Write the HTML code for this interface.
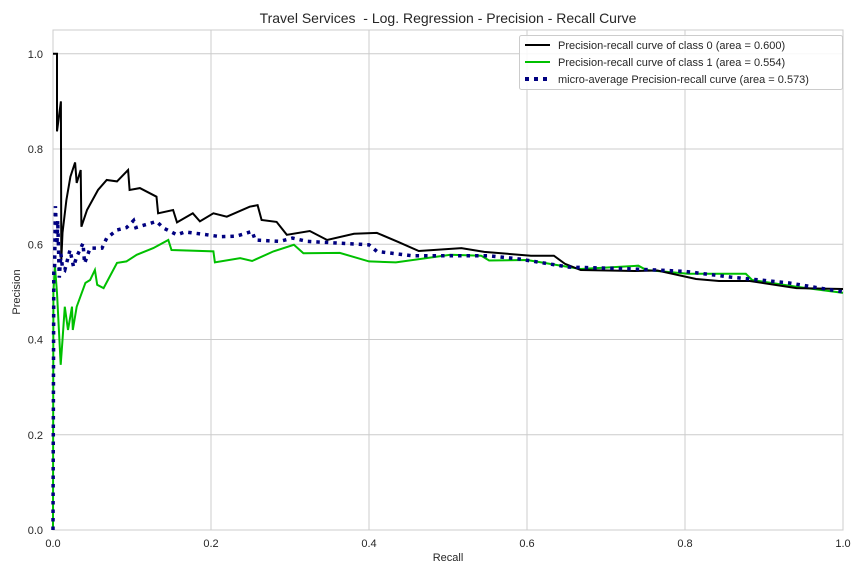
<!DOCTYPE html>
<html><head><meta charset="utf-8"><style>
body{margin:0;background:#fff;}
svg{display:block;font-family:"Liberation Sans",sans-serif;}
</style></head><body>
<svg id="chart" width="864" height="576">
<text x="448" y="23" text-anchor="middle" font-size="14" fill="#262626" style="white-space:pre">Travel Services  - Log. Regression - Precision - Recall Curve</text>
<text x="448" y="561" text-anchor="middle" font-size="11" fill="#262626">Recall</text>
<text transform="translate(20,292) rotate(-90)" text-anchor="middle" font-size="11" fill="#262626">Precision</text>
<g id="grid"></g>
<g id="series"></g>
<g id="legend">
<rect x="519.5" y="35.5" width="323" height="54" fill="#fff" fill-opacity="0.85" stroke="#ccc" rx="2"/>
<line x1="525" y1="45" x2="550" y2="45" stroke="#000" stroke-width="2"/>
<text x="558" y="49" font-size="11" fill="#262626">Precision-recall curve of class 0 (area = 0.600)</text>
<line x1="525" y1="62" x2="550" y2="62" stroke="#00c000" stroke-width="2"/>
<text x="558" y="66" font-size="11" fill="#262626">Precision-recall curve of class 1 (area = 0.554)</text>
<line x1="525" y1="79" x2="550" y2="79" stroke="#000080" stroke-width="4" stroke-dasharray="4 5"/>
<text x="558" y="83" font-size="11" fill="#262626">micro-average Precision-recall curve (area = 0.573)</text>
</g>
</svg>
<script>
const xTicks=[0,0.2,0.4,0.6,0.8,1.0];
const yTicks=[0,0.2,0.4,0.6,0.8,1.0];
const xTickLabels=["0.0","0.2","0.4","0.6","0.8","1.0"];
const yTickLabels=["0.0","0.2","0.4","0.6","0.8","1.0"];
const c0Recall=[0,0.001,0.005,0.005,0.010,0.0105,0.012,0.017,0.022,0.028,0.030,0.035,0.036,0.043,0.057,0.068,0.081,0.095,0.097,0.110,0.131,0.133,0.152,0.157,0.177,0.186,0.203,0.22,0.249,0.259,0.264,0.283,0.296,0.325,0.347,0.381,0.410,0.437,0.463,0.517,0.546,0.605,0.634,0.648,0.668,0.736,0.765,0.814,0.843,0.882,0.941,1.0];
const c0Prec=[1.0,1.0,1.0,0.837,0.90,0.567,0.624,0.693,0.742,0.772,0.729,0.756,0.637,0.672,0.714,0.735,0.732,0.756,0.714,0.718,0.70,0.665,0.672,0.646,0.665,0.648,0.665,0.658,0.679,0.682,0.651,0.647,0.620,0.628,0.609,0.622,0.624,0.605,0.586,0.592,0.584,0.576,0.576,0.559,0.546,0.544,0.545,0.527,0.523,0.523,0.508,0.506];
const c1Recall=[0,0.0005,0.0025,0.005,0.0097,0.012,0.015,0.019,0.024,0.025,0.030,0.041,0.047,0.053,0.056,0.064,0.081,0.093,0.106,0.127,0.146,0.150,0.203,0.205,0.237,0.252,0.279,0.305,0.317,0.363,0.40,0.434,0.503,0.542,0.552,0.60,0.668,0.741,0.751,0.804,0.877,0.885,0.941,1.0];
const c1Prec=[0,0.5,0.553,0.498,0.347,0.399,0.469,0.42,0.469,0.42,0.469,0.519,0.525,0.546,0.515,0.508,0.561,0.564,0.578,0.592,0.609,0.588,0.585,0.562,0.571,0.565,0.585,0.599,0.581,0.582,0.564,0.562,0.578,0.576,0.566,0.567,0.548,0.555,0.546,0.538,0.538,0.525,0.511,0.498];
const miRecall=[0,0.001,0.002,0.003,0.005,0.006,0.008,0.010,0.012,0.015,0.0215,0.026,0.030,0.038,0.040,0.047,0.062,0.068,0.081,0.093,0.102,0.105,0.131,0.140,0.157,0.167,0.195,0.212,0.232,0.252,0.256,0.287,0.303,0.322,0.40,0.41,0.454,0.512,0.551,0.59,0.653,0.736,0.8,0.858,0.931,1.0];
const miPrec=[0,0.55,0.55,0.68,0.60,0.65,0.53,0.58,0.55,0.546,0.588,0.553,0.574,0.602,0.56,0.592,0.592,0.613,0.63,0.635,0.65,0.635,0.648,0.634,0.62,0.626,0.62,0.616,0.617,0.627,0.609,0.606,0.613,0.606,0.599,0.585,0.576,0.576,0.576,0.569,0.552,0.548,0.543,0.531,0.519,0.50];
const NS="http://www.w3.org/2000/svg";
const X0=53,X1=843,Y0=530,YMAX=1.05,YTOP=30;
function sx(v){return X0+v*(X1-X0);}
function sy(v){return Y0-v*(Y0-YTOP)/YMAX;}
function mk(tag,attrs,parent){const e=document.createElementNS(NS,tag);for(const k in attrs)e.setAttribute(k,attrs[k]);parent.appendChild(e);return e;}
const grid=document.getElementById('grid');
xTicks.forEach((t,i)=>{
 const l=mk('line',{x1:sx(t),x2:sx(t),y1:YTOP,y2:Y0,stroke:'#cccccc','stroke-width':1},grid);
 
 
 const tx=mk('text',{x:sx(t),y:547,'text-anchor':'middle','font-size':11,fill:'#262626'},grid);
 tx.textContent=xTickLabels[i];
 
 
});
yTicks.forEach((t,i)=>{
 const l=mk('line',{x1:X0,x2:X1,y1:sy(t),y2:sy(t),stroke:'#cccccc','stroke-width':1},grid);
 
 
 const tx=mk('text',{x:43,y:sy(t)+4,'text-anchor':'end','font-size':11,fill:'#262626'},grid);
 tx.textContent=yTickLabels[i];
 
 
});
const frame=mk('rect',{x:X0,y:YTOP,width:X1-X0,height:Y0-YTOP,fill:'none',stroke:'#cccccc','stroke-width':1},grid);


const ser=document.getElementById('series');
function pts(rx,py){return rx.map((r,i)=>sx(r).toFixed(1)+','+sy(py[i]).toFixed(1)).join(' ');}
const p1=mk('polyline',{points:pts(c1Recall,c1Prec),fill:'none',stroke:'#00c000','stroke-width':2},ser);


const p0=mk('polyline',{points:pts(c0Recall,c0Prec),fill:'none',stroke:'#000','stroke-width':2},ser);


const pm=mk('polyline',{points:pts(miRecall,miPrec),fill:'none',stroke:'#000080','stroke-width':3.5,'stroke-dasharray':'3.5 5'},ser);


</script>
</body></html>
